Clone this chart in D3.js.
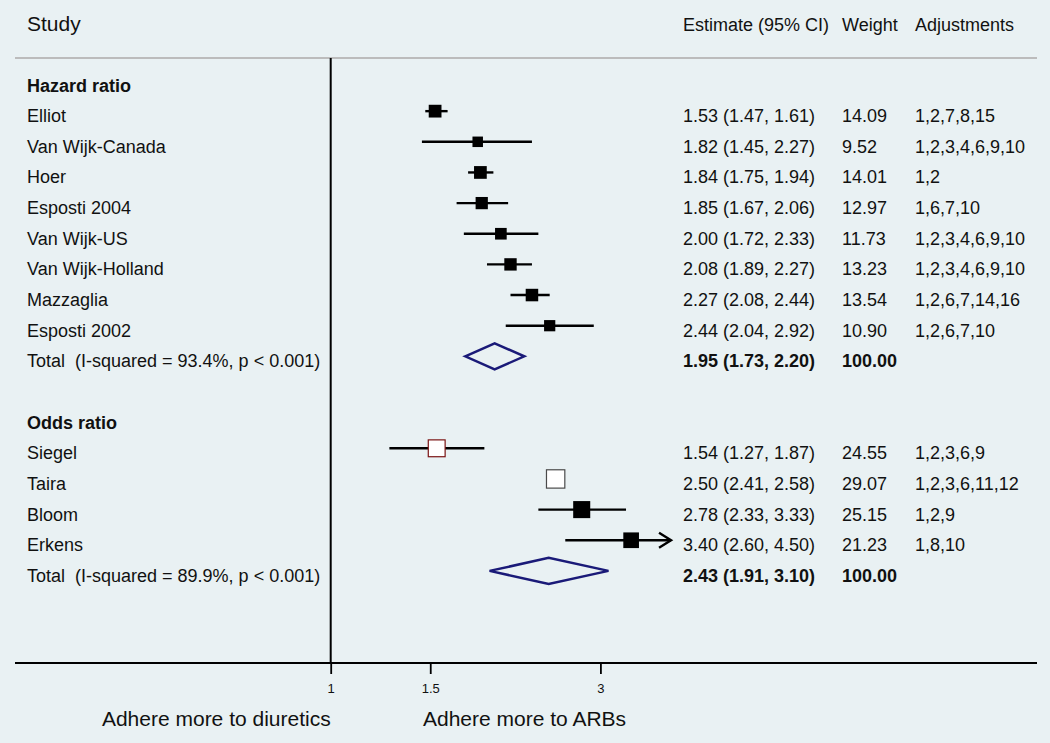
<!DOCTYPE html>
<html>
<head>
<meta charset="utf-8">
<script src="https://cdn.jsdelivr.net/npm/d3@7"></script>
<style>
  html, body { margin: 0; padding: 0; background: #e9f1f3; }
  svg { display: block; font-family: "Liberation Sans", Arial, sans-serif; }
  text { white-space: pre; }
</style>
</head>
<body>
<svg id="chart" width="1050" height="743"></svg>
<script>
// ---- Data ----
const hrStudies = ["Elliot", "Van Wijk-Canada", "Hoer", "Esposti 2004", "Van Wijk-US", "Van Wijk-Holland", "Mazzaglia", "Esposti 2002"];
const hrEst = [1.53, 1.82, 1.84, 1.85, 2.00, 2.08, 2.27, 2.44];
const hrLo  = [1.47, 1.45, 1.75, 1.67, 1.72, 1.89, 2.08, 2.04];
const hrHi  = [1.61, 2.27, 1.94, 2.06, 2.33, 2.27, 2.44, 2.92];
const hrWeight = [14.09, 9.52, 14.01, 12.97, 11.73, 13.23, 13.54, 10.90];
const hrAdj = ["1,2,7,8,15", "1,2,3,4,6,9,10", "1,2", "1,6,7,10", "1,2,3,4,6,9,10", "1,2,3,4,6,9,10", "1,2,6,7,14,16", "1,2,6,7,10"];
const hrTotal = [1.95, 1.73, 2.20];
const hrTotalLabel = "Total  (I-squared = 93.4%, p < 0.001)";

const orStudies = ["Siegel", "Taira", "Bloom", "Erkens"];
const orEst = [1.54, 2.50, 2.78, 3.40];
const orLo  = [1.27, 2.41, 2.33, 2.60];
const orHi  = [1.87, 2.58, 3.33, 4.50];
const orWeight = [24.55, 29.07, 25.15, 21.23];
const orAdj = ["1,2,3,6,9", "1,2,3,6,11,12", "1,2,9", "1,8,10"];
const orTotal = [2.43, 1.91, 3.10];
const orTotalLabel = "Total  (I-squared = 89.9%, p < 0.001)";

const groupTitles = ["Hazard ratio", "Odds ratio"];
const headers = ["Study", "Estimate (95% CI)", "Weight", "Adjustments"];
const tickValues = [1, 1.5, 3];
const axisLabels = ["Adhere more to diuretics", "Adhere more to ARBs"];

// ---- Build rows ----
const rows = [];
function addGroup(title, names, est, lo, hi, w, adj, tot, totLabel) {
  rows.push({type: "group", label: title});
  names.forEach((n, i) => rows.push({type: "study", label: n, est: est[i], lo: lo[i], hi: hi[i], w: w[i], adj: adj[i]}));
  rows.push({type: "total", label: totLabel, est: tot[0], lo: tot[1], hi: tot[2], w: 100});
}
addGroup(groupTitles[0], hrStudies, hrEst, hrLo, hrHi, hrWeight, hrAdj, hrTotal, hrTotalLabel);
rows.push({type: "blank"});
addGroup(groupTitles[1], orStudies, orEst, orLo, orHi, orWeight, orAdj, orTotal, orTotalLabel);
rows.forEach((r, i) => r.i = i);

// ---- Layout ----
const svg = d3.select("#chart");
const W = 1050, H = 743;
const bg = "#e9f1f3";
svg.append("rect").attr("width", W).attr("height", H).attr("fill", bg);

const clipMax = 4;
const k = 245.5;
const x0 = 330.7;
const x = d3.scaleLog().domain([1, clipMax]).range([x0, x0 + k * Math.log(clipMax)]);
const y = d3.scaleLinear().domain([0, rows.length - 1]).range([80.5, 80.5 + 30.65 * (rows.length - 1)]);
const textOff = 11;
const headerY = 58, axisY = 663;
const colX = {study: 27, est: 683, weight: 842, adj: 915};
const fs = 18;
const ink = "#111";

// header
const hdr = svg.append("g").attr("fill", ink);
hdr.append("text").attr("x", colX.study).attr("y", 31).attr("font-size", 21).text(headers[0]);
hdr.append("text").attr("x", colX.est).attr("y", 31).attr("font-size", fs).text(headers[1]);
hdr.append("text").attr("x", colX.weight).attr("y", 31).attr("font-size", fs).text(headers[2]);
hdr.append("text").attr("x", colX.adj).attr("y", 31).attr("font-size", fs).text(headers[3]);
svg.append("line").attr("x1", 15).attr("x2", 1037).attr("y1", headerY).attr("y2", headerY)
  .attr("stroke", "#bcbcbc").attr("stroke-width", 2);

// axis lines
svg.append("line").attr("x1", x(1)).attr("x2", x(1)).attr("y1", headerY).attr("y2", axisY)
  .attr("stroke", "#000").attr("stroke-width", 2);
svg.append("line").attr("x1", 15).attr("x2", 1037).attr("y1", axisY).attr("y2", axisY)
  .attr("stroke", "#000").attr("stroke-width", 2.2);

const axis = d3.axisBottom(x).tickValues(tickValues).tickSize(11).tickPadding(10)
  .tickFormat(d => String(d));
const ag = svg.append("g").attr("transform", `translate(0,${axisY})`).call(axis);
ag.select(".domain").remove();
ag.selectAll(".tick line").attr("stroke", "#000").attr("stroke-width", 1.8);
ag.selectAll(".tick text").attr("font-size", 13).attr("fill", ink)
  .attr("font-family", "'Liberation Sans', Arial, sans-serif");

svg.append("text").attr("x", x(1)).attr("y", 726).attr("text-anchor", "end").attr("font-size", 21).attr("fill", ink).text(axisLabels[0]);
svg.append("text").attr("x", 423).attr("y", 726).attr("font-size", 21).attr("fill", ink).text(axisLabels[1]);

// rows text
const fmt = v => v.toFixed(2);
const tg = svg.append("g").attr("font-size", fs).attr("fill", ink);
rows.forEach(r => {
  const ty = y(r.i) + textOff;
  if (r.type === "blank") return;
  if (r.type === "group") {
    tg.append("text").attr("x", colX.study).attr("y", ty).attr("font-weight", "bold").text(r.label);
    return;
  }
  tg.append("text").attr("x", colX.study).attr("y", ty).text(r.label);
  const bold = r.type === "total" ? "bold" : "normal";
  tg.append("text").attr("x", colX.est).attr("y", ty).attr("font-weight", bold)
    .text(`${fmt(r.est)} (${fmt(r.lo)}, ${fmt(r.hi)})`);
  tg.append("text").attr("x", colX.weight).attr("y", ty).attr("font-weight", bold).text(fmt(r.w));
  if (r.adj) tg.append("text").attr("x", colX.adj).attr("y", ty).text(r.adj);
});

// marks
const hollowStyle = {"Siegel": "#7a1414", "Taira": "#4a4a4a"};
const mg = svg.append("g");
rows.filter(r => r.type === "study").forEach(r => {
  const cy = y(r.i);
  const hiClipped = r.hi > clipMax;
  const xHi = hiClipped ? x(clipMax) : x(r.hi);
  mg.append("line").attr("x1", x(r.lo)).attr("x2", xHi).attr("y1", cy).attr("y2", cy)
    .attr("stroke", "#000").attr("stroke-width", 2.4);
  if (hiClipped) {
    mg.append("path")
      .attr("d", `M${xHi - 12},${cy - 7.5}L${xHi},${cy}L${xHi - 12},${cy + 7.5}`)
      .attr("fill", "none").attr("stroke", "#000").attr("stroke-width", 2.4);
  }
  const s = 3.4 * Math.sqrt(r.w);
  const hollow = hollowStyle[r.label];
  mg.append("rect").attr("x", x(r.est) - s / 2).attr("y", cy - s / 2).attr("width", s).attr("height", s)
    .attr("fill", hollow ? "#ffffff" : "#000")
    .attr("stroke", hollow ? hollow : "none").attr("stroke-width", 1.2);
});
rows.filter(r => r.type === "total").forEach(r => {
  const cy = y(r.i), h = 13;
  mg.append("path")
    .attr("d", `M${x(r.lo)},${cy}L${x(r.est)},${cy - h}L${x(r.hi)},${cy}L${x(r.est)},${cy + h}Z`)
    .attr("fill", "none").attr("stroke", "#1a1a78").attr("stroke-width", 2.5);
});
</script>
</body>
</html>
